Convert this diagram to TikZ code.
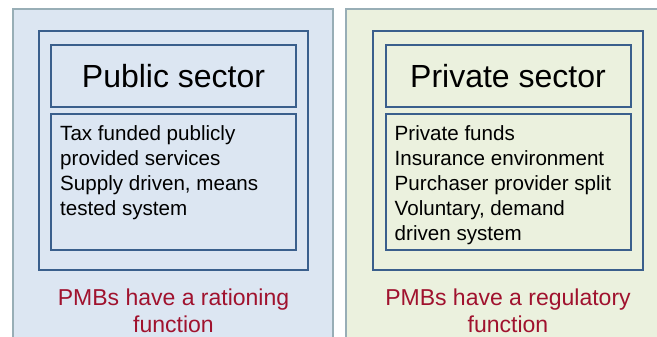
\documentclass[tikz,border=0pt]{standalone}
\usepackage{fontspec}
\setmainfont{Liberation Sans}
\usepackage{xcolor}
\usetikzlibrary{positioning}

\definecolor{publicfill}{HTML}{DCE6F2}
\definecolor{privatefill}{HTML}{EBF1DE}
\definecolor{panelline}{HTML}{98AEB6}
\definecolor{boxline}{HTML}{3A5F8C}
\definecolor{pmbred}{HTML}{A0122E}

\begin{document}
\begin{tikzpicture}[x=1pt,y=-1pt,
  panel/.style={draw=panelline, line width=1.5pt, minimum width=320pt, minimum height=340pt, anchor=north west, inner sep=0pt, outer sep=0pt},
  frame/.style={draw=boxline, line width=2pt, minimum width=269pt, minimum height=239pt, anchor=north west, inner sep=0pt, outer sep=0pt},
  titlebox/.style={draw=boxline, line width=2pt, minimum width=245pt, minimum height=62pt, inner sep=0pt, outer sep=0pt, font=\fontsize{32}{38}\selectfont},
  listbox/.style={draw=boxline, line width=2pt, minimum width=245pt, minimum height=136pt, inner sep=0pt, outer sep=0pt},
  listtext/.style={align=left, anchor=north west, inner sep=0pt, font=\fontsize{20.6}{25}\selectfont},
  pmbtext/.style={align=center, text=pmbred, inner sep=0pt, font=\fontsize{23}{27}\selectfont}]

% Fix the page size
\useasboundingbox (0,0) rectangle (657,337);

% Public sector panel
\node[panel, fill=publicfill] (lpanel) at (13,9) {};
\node[frame] (lframe) at (39,31) {};
\node[titlebox, below=14pt of lframe.north] (ltitle) {Public sector};
\node[listbox, below=7pt of ltitle] (llist) {};
\node[listtext] (ltext) at ([shift={(9,11)}]llist.north west)
  {Tax funded publicly\\provided services\\Supply driven, means\\tested system};
\node[pmbtext, below=19pt of lframe] (lpmb) {PMBs have a rationing\\function};

% Private sector panel
\node[panel, fill=privatefill] (rpanel) at (346,9) {};
\node[frame, minimum width=270pt] (rframe) at (373,31) {};
\node[titlebox, below=14pt of rframe.north] (rtitle) {Private sector};
\node[listbox, below=7pt of rtitle] (rlist) {};
\node[listtext] (rtext) at ([shift={(9,11)}]rlist.north west)
  {Private funds\\Insurance environment\\Purchaser provider split\\Voluntary, demand\\driven system};
\node[pmbtext, below=19pt of rframe] (rpmb) {PMBs have a regulatory\\function};

\end{tikzpicture}
\end{document}
